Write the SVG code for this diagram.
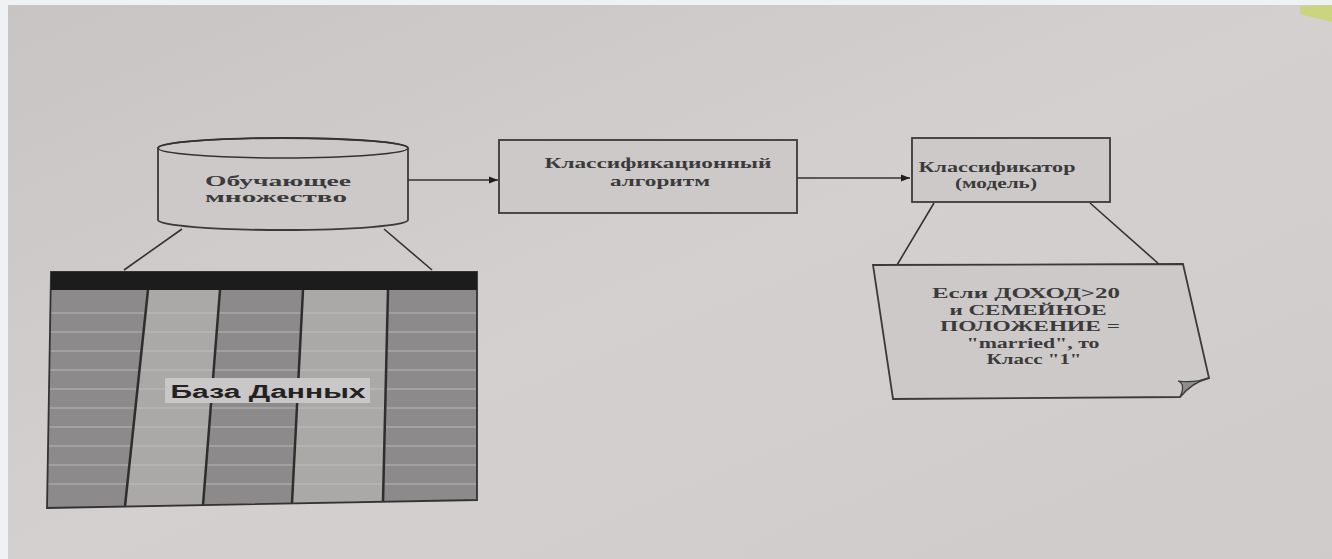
<svg xmlns="http://www.w3.org/2000/svg" width="1332" height="559" viewBox="0 0 1332 559">
<defs>
<linearGradient id="paper" x1="0" y1="0" x2="1" y2="1">
<stop offset="0" stop-color="#c9c4c4"/>
<stop offset="0.5" stop-color="#d4d0d0"/>
<stop offset="1" stop-color="#cfcbcb"/>
</linearGradient>
<marker id="ah" viewBox="0 0 10 10" refX="10" refY="5" markerWidth="9" markerHeight="9" markerUnits="userSpaceOnUse" orient="auto">
<path d="M0,1 L10,5 L0,9 z" fill="#1e1e1e"/>
</marker>
<style>
.ln{stroke:#333;stroke-width:1.6;fill:none}
.bx{stroke:#3a3a3a;stroke-width:1.8;fill:#cdc9c9}
.t{font-family:"Liberation Serif","DejaVu Serif",serif;font-size:14px;fill:#3b3b3b;text-anchor:middle;font-weight:bold}
.dk{fill:#8c8a8a}
.lt{fill:#aba8a8}
.row{stroke:#c4c2c2;stroke-width:1;opacity:0.8}
.div{stroke:#2e2e2e;stroke-width:2.5}
</style>
</defs>
<rect x="0" y="0" width="1332" height="559" fill="#eef2f5"/>
<rect x="8" y="5" width="1324" height="554" fill="url(#paper)"/>
<path d="M1300,6 L1332,5 L1332,22 Q1315,18 1300,14 z" fill="#c8d46a" opacity="0.8"/>

<g id="connectors">
<line class="ln" x1="408" y1="180" x2="498" y2="180" marker-end="url(#ah)"/>
<line class="ln" x1="797" y1="178" x2="910" y2="178" marker-end="url(#ah)"/>
<line class="ln" x1="182" y1="229" x2="124" y2="270"/>
<line class="ln" x1="384" y1="229" x2="432" y2="270"/>
<line class="ln" x1="934" y1="203" x2="897" y2="265"/>
<line class="ln" x1="1090" y1="203" x2="1160" y2="265"/>
</g>

<g id="training-set">
<path class="bx" d="M158,148 L158,220 A125,10 0 0 0 408,220 L408,148 A125,10 0 0 0 158,148 z"/>
<ellipse cx="283" cy="148" rx="125" ry="10" class="ln" fill="none"/>
<text class="t" x="278" y="186" textLength="146" lengthAdjust="spacingAndGlyphs">Обучающее</text>
<text class="t" x="276" y="202" textLength="142" lengthAdjust="spacingAndGlyphs">множество</text>
</g>

<g id="algorithm">
<rect class="bx" x="499" y="140" width="298" height="73"/>
<text class="t" x="658" y="168" textLength="227" lengthAdjust="spacingAndGlyphs">Классификационный</text>
<text class="t" x="660" y="186" textLength="100" lengthAdjust="spacingAndGlyphs">алгоритм</text>
</g>

<g id="classifier">
<rect class="bx" x="912" y="138" width="198" height="64"/>
<text class="t" x="997" y="172" textLength="157" lengthAdjust="spacingAndGlyphs">Классификатор</text>
<text class="t" x="996" y="188" textLength="82" lengthAdjust="spacingAndGlyphs">(модель)</text>
</g>

<g id="rule-note">
<path class="bx" d="M873,265 L1183,264 L1209,378 Q1192,382 1180,397 L893,399 z"/>
<path d="M1209,378 Q1192,382 1180,397 Q1186,384 1178,381 Q1195,383 1209,378 z" fill="#8e8c8c" stroke="#3a3a3a" stroke-width="1.2"/>
<text class="t" x="1026" y="298" textLength="188" lengthAdjust="spacingAndGlyphs">Если ДОХОД&gt;20</text>
<text class="t" x="1028" y="315" textLength="157" lengthAdjust="spacingAndGlyphs">и СЕМЕЙНОЕ</text>
<text class="t" x="1030" y="331" textLength="180" lengthAdjust="spacingAndGlyphs">ПОЛОЖЕНИЕ =</text>
<text class="t" x="1033" y="348" textLength="133" lengthAdjust="spacingAndGlyphs">"married", то</text>
<text class="t" x="1034" y="364" textLength="95" lengthAdjust="spacingAndGlyphs">Класс "1"</text>
</g>

<g id="database">
<polygon class="dk" points="51,290 148,290 125,506 47,508"/>
<polygon class="lt" points="148,290 220,290 203,505 125,506"/>
<polygon class="dk" points="220,290 303,290 292,503 203,505"/>
<polygon class="lt" points="303,290 388,290 383,501 292,503"/>
<polygon class="dk" points="388,290 477,290 477,500 383,501"/>
<g class="row">
<line x1="50" y1="313" x2="477" y2="313"/>
<line x1="50" y1="332" x2="477" y2="332"/>
<line x1="50" y1="351" x2="477" y2="351"/>
<line x1="49" y1="370" x2="477" y2="370"/>
<line x1="49" y1="389" x2="477" y2="389"/>
<line x1="49" y1="408" x2="477" y2="408"/>
<line x1="48" y1="427" x2="477" y2="427"/>
<line x1="48" y1="446" x2="477" y2="446"/>
<line x1="48" y1="465" x2="477" y2="465"/>
<line x1="47" y1="484" x2="477" y2="484"/>
</g>
<line class="div" x1="148" y1="290" x2="125" y2="506"/>
<line class="div" x1="220" y1="290" x2="203" y2="505"/>
<line class="div" x1="303" y1="290" x2="292" y2="503"/>
<line class="div" x1="388" y1="290" x2="383" y2="501"/>
<polygon points="51,272 477,272 477,500 47,508" fill="none" stroke="#333" stroke-width="1.8"/>
<rect x="51" y="272" width="426" height="18" fill="#1c1c1c"/>
<rect x="165" y="378" width="205" height="25" fill="#c9c7c7"/>
<text x="268" y="398" font-family="'Liberation Sans','DejaVu Sans',sans-serif" font-size="18" font-weight="bold" fill="#222" text-anchor="middle" textLength="195" lengthAdjust="spacingAndGlyphs">База Данных</text>
</g>
</svg>
